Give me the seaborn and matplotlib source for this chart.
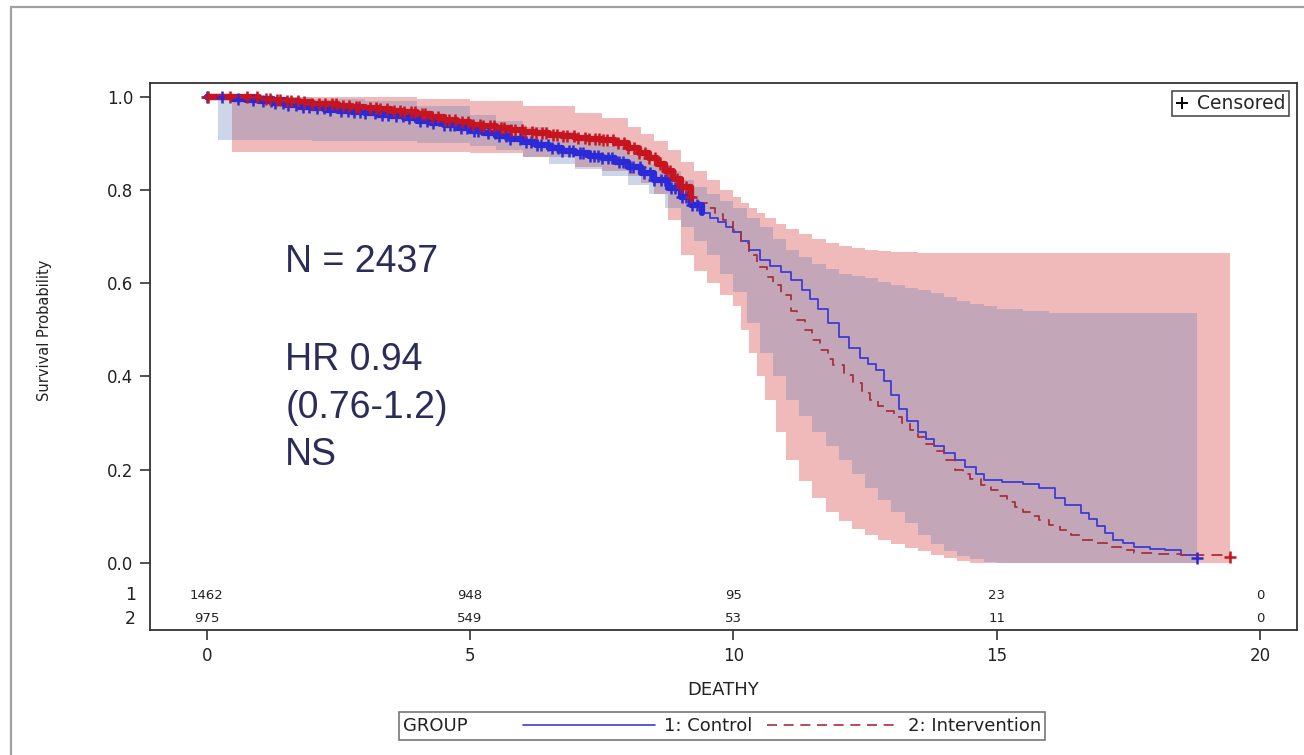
import numpy as np
import pandas as pd
import matplotlib
matplotlib.use("Agg")
import matplotlib.pyplot as plt
import seaborn as sns
from matplotlib.lines import Line2D
from matplotlib.patches import Rectangle
from matplotlib.offsetbox import HPacker

# Kaplan-Meier estimates, time in years
ctrl_time = [0.0, 0.25, 0.5, 0.75, 1.0, 1.25, 1.5, 1.75, 2.0, 2.25, 2.5, 2.75, 3.0,
             3.25, 3.5, 3.75, 4.0, 4.25, 4.5, 4.75, 5.0, 5.25, 5.5, 5.75, 6.0, 6.25,
             6.5, 6.75, 7.0, 7.25, 7.5, 7.75, 8.0, 8.25, 8.5, 8.75, 9.0, 9.2, 9.4,
             9.55, 9.7, 9.85, 10.0, 10.15, 10.3, 10.5, 10.7, 10.9, 11.1, 11.3, 11.45,
             11.6, 11.8, 12.0, 12.2, 12.4, 12.55, 12.7, 12.85, 13.0, 13.15, 13.3,
             13.5, 13.65, 13.8, 14.0, 14.2, 14.4, 14.6, 14.75, 15.1, 15.5, 15.8,
             16.1, 16.3, 16.6, 16.75, 16.9, 17.05, 17.2, 17.4, 17.6, 17.9, 18.2,
             18.5, 18.8]
ctrl_surv = [1.0, 0.998, 0.995, 0.993, 0.99, 0.986, 0.982, 0.978, 0.975, 0.972,
             0.97, 0.967, 0.964, 0.961, 0.958, 0.953, 0.948, 0.943, 0.938, 0.932,
             0.926, 0.921, 0.915, 0.909, 0.902, 0.896, 0.89, 0.884, 0.878, 0.873,
             0.868, 0.859, 0.848, 0.835, 0.82, 0.803, 0.785, 0.768, 0.75, 0.74,
             0.73, 0.72, 0.71, 0.69, 0.672, 0.65, 0.637, 0.624, 0.607, 0.585, 0.565,
             0.545, 0.515, 0.485, 0.46, 0.44, 0.427, 0.414, 0.39, 0.36, 0.33, 0.305,
             0.28, 0.265, 0.25, 0.235, 0.22, 0.205, 0.19, 0.178, 0.174, 0.17, 0.16,
             0.14, 0.125, 0.107, 0.095, 0.08, 0.065, 0.05, 0.042, 0.035, 0.031,
             0.028, 0.018, 0.01]

intv_time = [0.0, 0.5, 1.0, 1.25, 1.5, 1.75, 2.0, 2.25, 2.5, 2.75, 3.0, 3.25, 3.5,
             3.75, 4.0, 4.25, 4.5, 4.75, 5.0, 5.25, 5.5, 5.75, 6.0, 6.25, 6.5, 6.75,
             7.0, 7.25, 7.5, 7.75, 8.0, 8.2, 8.4, 8.55, 8.7, 8.85, 9.0, 9.2, 9.35,
             9.5, 9.65, 9.8, 10.0, 10.15, 10.3, 10.45, 10.63, 10.75, 10.9, 11.1,
             11.2, 11.35, 11.5, 11.64, 11.8, 11.9, 12.1, 12.27, 12.45, 12.6, 12.75,
             12.9, 13.05, 13.2, 13.35, 13.5, 13.65, 13.8, 14.0, 14.2, 14.35, 14.5,
             14.7, 14.9, 15.05, 15.2, 15.35, 15.5, 15.65, 15.8, 16.0, 16.2, 16.4,
             16.6, 16.85, 17.1, 17.35, 17.6, 18.0, 18.5, 19.43]
intv_surv = [1.0, 0.998, 0.995, 0.993, 0.99, 0.988, 0.985, 0.983, 0.98, 0.978,
             0.975, 0.973, 0.97, 0.966, 0.962, 0.956, 0.95, 0.945, 0.94, 0.936,
             0.932, 0.928, 0.925, 0.921, 0.918, 0.915, 0.912, 0.91, 0.907, 0.9,
             0.89, 0.88, 0.868, 0.855, 0.84, 0.823, 0.806, 0.785, 0.772, 0.76,
             0.748, 0.735, 0.714, 0.687, 0.66, 0.635, 0.613, 0.595, 0.575, 0.54,
             0.522, 0.5, 0.478, 0.457, 0.437, 0.425, 0.404, 0.386, 0.365, 0.35,
             0.337, 0.325, 0.313, 0.3, 0.285, 0.27, 0.255, 0.24, 0.22, 0.2, 0.19,
             0.18, 0.168, 0.156, 0.143, 0.13, 0.12, 0.11, 0.1, 0.092, 0.081, 0.07,
             0.06, 0.05, 0.042, 0.035, 0.028, 0.021, 0.019, 0.017, 0.013]

# Pointwise confidence limits
ctrl_ci_time = [0.22, 1.0, 2.0, 3.0, 4.0, 5.0, 5.5, 6.0, 6.5, 7.0, 7.5, 8.0, 8.4,
                8.7, 9.0, 9.25, 9.5, 9.75, 10.0, 10.25, 10.5, 10.75, 11.0, 11.25,
                11.5, 11.75, 12.0, 12.25, 12.5, 12.75, 13.0, 13.25, 13.5, 13.75,
                14.0, 14.25, 14.5, 14.75, 15.0, 15.5, 16.0, 18.8]
ctrl_ci_lower = [0.907, 0.907, 0.905, 0.905, 0.9, 0.895, 0.885, 0.87, 0.855, 0.845,
                 0.83, 0.81, 0.79, 0.76, 0.72, 0.69, 0.66, 0.62, 0.58, 0.515, 0.45,
                 0.4, 0.35, 0.315, 0.28, 0.25, 0.22, 0.19, 0.16, 0.135, 0.11, 0.085,
                 0.06, 0.04, 0.025, 0.015, 0.008, 0.003, 0.0, 0.0, 0.0, 0.0]
ctrl_ci_upper = [1.0, 1.0, 0.995, 0.99, 0.98, 0.96, 0.948, 0.935, 0.925, 0.91,
                 0.895, 0.875, 0.855, 0.84, 0.82, 0.805, 0.79, 0.775, 0.76, 0.74,
                 0.72, 0.695, 0.67, 0.655, 0.64, 0.63, 0.62, 0.615, 0.61, 0.602,
                 0.595, 0.59, 0.585, 0.578, 0.57, 0.562, 0.555, 0.55, 0.545, 0.54,
                 0.535, 0.535]

intv_ci_time = [0.48, 1.0, 2.0, 3.0, 4.0, 5.0, 6.0, 7.0, 7.5, 8.0, 8.25, 8.5, 8.75,
                9.0, 9.25, 9.5, 9.75, 10.0, 10.15, 10.3, 10.45, 10.6, 10.8, 11.0,
                11.25, 11.5, 11.75, 12.0, 12.25, 12.5, 12.75, 13.0, 13.25, 13.5,
                13.75, 14.0, 14.25, 14.5, 19.43]
intv_ci_lower = [0.882, 0.882, 0.882, 0.882, 0.882, 0.88, 0.87, 0.85, 0.84, 0.83,
                 0.815, 0.79, 0.735, 0.66, 0.625, 0.6, 0.575, 0.55, 0.5, 0.45, 0.4,
                 0.35, 0.28, 0.22, 0.175, 0.14, 0.11, 0.09, 0.073, 0.06, 0.05, 0.04,
                 0.032, 0.025, 0.017, 0.01, 0.004, 0.0, 0.0]
intv_ci_upper = [1.0, 1.0, 1.0, 1.0, 0.995, 0.99, 0.98, 0.965, 0.955, 0.935, 0.92,
                 0.905, 0.885, 0.86, 0.84, 0.82, 0.8, 0.785, 0.772, 0.76, 0.75, 0.74,
                 0.727, 0.715, 0.705, 0.695, 0.687, 0.68, 0.676, 0.672, 0.669, 0.667,
                 0.666, 0.665, 0.665, 0.665, 0.665, 0.665, 0.665]

# Censoring times
ctrl_censor = [0.0, 0.29, 0.6, 0.88, 1.07, 1.22, 1.3, 1.45, 1.55, 1.7, 1.82, 1.95,
               2.1, 2.22, 2.35, 2.55, 2.68, 2.8, 2.92, 3.0, 3.2, 3.33, 3.45, 3.6,
               3.72, 3.85, 4.05, 4.18, 4.3, 4.5, 4.62, 4.7, 4.83, 4.95, 5.08, 5.15,
               5.35, 5.47, 5.55, 5.68, 5.75, 5.95, 6.07, 6.15, 6.28, 6.35, 6.48,
               6.55, 6.67, 6.75, 6.88, 6.95, 7.08, 7.15, 7.27, 7.35, 7.43, 7.5, 7.62,
               7.7, 7.82, 7.9, 8.03, 8.1, 8.22, 8.3, 8.42, 8.5, 8.62, 8.7, 8.82, 8.9,
               9.03, 9.1, 9.22, 9.3, 18.8]
intv_censor = [0.03, 0.44, 0.76, 0.95, 1.12, 1.2, 1.33, 1.4, 1.52, 1.6, 1.73, 1.85,
               2.0, 2.13, 2.25, 2.37, 2.45, 2.58, 2.7, 2.83, 2.9, 3.1, 3.22, 3.3,
               3.42, 3.55, 3.67, 3.75, 3.88, 3.95, 4.08, 4.15, 4.27, 4.4, 4.53, 4.6,
               4.72, 4.85, 4.97, 5.05, 5.18, 5.25, 5.38, 5.45, 5.58, 5.65, 5.78,
               5.85, 5.98, 6.05, 6.18, 6.25, 6.37, 6.45, 6.58, 6.65, 6.77, 6.85,
               6.97, 7.05, 7.18, 7.25, 7.37, 7.45, 7.53, 7.6, 7.72, 7.8, 7.92, 8.0,
               8.12, 8.2, 8.33, 8.4, 8.52, 8.6, 8.73, 8.8, 8.93, 9.0, 9.1, 9.2, 19.43]

# Numbers at risk
risk_times = [0, 5, 10, 15, 20]
risk_ctrl = [1462, 948, 95, 23, 0]
risk_intv = [975, 549, 53, 11, 0]

group_labels = ["1: Control", "2: Intervention"]
annot_n = "N = 2437"
annot_hr = ["HR 0.94", "(0.76-1.2)", "NS"]

sns.set_style("white")
plt.rcParams["font.family"] = ["DejaVu Sans"]

CTRL = "#2a2ad8"
CTRL_THIN = "#3c3cd8"
INTV = "#c8141e"
INTV_THIN = "#a8303c"
TXT = "#222222"

fig = plt.figure(figsize=(13.04, 7.55), dpi=100)
ax = fig.add_axes([150 / 1304, 1 - 630 / 755, 1147 / 1304, 547 / 755])

# outer frame
fig.patches.append(Rectangle((11 / 1304, -0.2), 2.0, 1.2 - 7 / 755,
                             transform=fig.transFigure, fill=False,
                             edgecolor="#a0a0a0", lw=1.6, zorder=0))

# confidence bands
ax.fill_between(intv_ci_time, intv_ci_lower, intv_ci_upper, step="post",
                color="#e06666", alpha=0.45, lw=0, zorder=1)
ax.fill_between(ctrl_ci_time, ctrl_ci_lower, ctrl_ci_upper, step="post",
                color="#5a78b4", alpha=0.30, lw=0, zorder=2)

ctrl_df = pd.DataFrame({"time": ctrl_time, "surv": ctrl_surv})
intv_df = pd.DataFrame({"time": intv_time, "surv": intv_surv})

# survival curves
sns.lineplot(data=ctrl_df, x="time", y="surv", ax=ax, estimator=None, sort=False,
             drawstyle="steps-post", color=CTRL_THIN, lw=1.3, zorder=4)
sns.lineplot(data=intv_df, x="time", y="surv", ax=ax, estimator=None, sort=False,
             drawstyle="steps-post", color=INTV_THIN, lw=1.3, zorder=5)
ax.lines[-1].set_linestyle((0, (6, 4)))

# dense censoring region drawn heavier
sns.lineplot(data=ctrl_df[ctrl_df.time <= 9.4], x="time", y="surv", ax=ax,
             estimator=None, sort=False, drawstyle="steps-post", color=CTRL,
             lw=4.5, zorder=6)
sns.lineplot(data=intv_df[intv_df.time <= 9.2], x="time", y="surv", ax=ax,
             estimator=None, sort=False, drawstyle="steps-post", color=INTV,
             lw=4.5, zorder=7)


def surv_at(times, surv, pts):
    idx = np.searchsorted(np.asarray(times), np.asarray(pts), side="right") - 1
    return np.asarray(surv)[idx]


ctrl_cens_df = pd.DataFrame({"time": ctrl_censor,
                             "surv": surv_at(ctrl_time, ctrl_surv, ctrl_censor)})
intv_cens_df = pd.DataFrame({"time": intv_censor,
                             "surv": surv_at(intv_time, intv_surv, intv_censor)})
sns.scatterplot(data=ctrl_cens_df, x="time", y="surv", ax=ax, marker="+", s=70,
                color=CTRL, linewidth=1.8, zorder=8)
sns.scatterplot(data=intv_cens_df, x="time", y="surv", ax=ax, marker="+", s=70,
                color=INTV, linewidth=1.8, zorder=9)

ax.set_xlim(-1.076, 20.70)
ax.set_ylim(-0.1436, 1.029)
ax.set_xticks(risk_times)
ax.set_yticks([0.0, 0.2, 0.4, 0.6, 0.8, 1.0])
ax.set_yticklabels(["0.0", "0.2", "0.4", "0.6", "0.8", "1.0"])
ax.tick_params(axis="both", direction="out", length=7, width=1.2, color="#333333",
               labelsize=12, labelcolor=TXT, left=True, bottom=True, pad=5)
for sp in ax.spines.values():
    sp.set_color("#333333")
    sp.set_linewidth(1.3)

ax.set_xlabel("DEATHY", fontsize=13, color=TXT, labelpad=12)
ax.set_ylabel("Survival Probability", fontsize=10.5, color=TXT)
ax.yaxis.set_label_coords(-0.0854, 0.548)

# numbers at risk
row_y = [-0.0686, -0.12]
for yv, counts, name in zip(row_y, [risk_ctrl, risk_intv], ["1", "2"]):
    for t, n in zip(risk_times, counts):
        ax.text(t, yv, str(n), ha="center", va="center", fontsize=9.5, color=TXT)
    ax.text(-0.012, yv, name, transform=ax.get_yaxis_transform(), ha="right",
            va="center", fontsize=12.5, color=TXT)

# annotation
ANN = "#2b2c58"
ax.text(1.49, 0.624, annot_n, fontsize=27, color=ANN, family="Liberation Sans",
        va="baseline", ha="left")
for yv, s in zip([0.414, 0.311, 0.21], annot_hr):
    ax.text(1.49, yv, s, fontsize=27, color=ANN, family="Liberation Sans",
            va="baseline", ha="left")

# censored key
cens_handle = Line2D([], [], marker="+", color="black", ls="none", ms=8, mew=1.4)
ax.legend([cens_handle], ["Censored"], loc="upper right", fontsize=13.5,
          frameon=True, fancybox=False, edgecolor="#222222", handlelength=0.8,
          handletextpad=0.4, borderpad=0.15, borderaxespad=0.45)
ax.get_legend().get_frame().set_linewidth(1.2)

# group key below the axes
h_ctrl = Line2D([], [], color=CTRL_THIN, lw=1.2)
h_intv = Line2D([], [], color=INTV_THIN, lw=1.2, ls=(0, (6, 4)))
leg = fig.legend([h_ctrl, h_intv], group_labels, ncol=2, title="GROUP",
                 loc="center", bbox_to_anchor=(722 / 1304, 1 - 726 / 755),
                 frameon=True, fancybox=False, edgecolor="#555555", fontsize=13,
                 title_fontsize=13, handlelength=7.3, columnspacing=0.8,
                 handletextpad=0.5, borderpad=0.25)
leg.get_frame().set_linewidth(1.2)
for t in leg.get_texts():
    t.set_color(TXT)
leg.get_title().set_color(TXT)
old_box = leg._legend_box
row_box = HPacker(pad=old_box.pad, sep=40, align="center",
                  children=old_box.get_children())
row_box.set_figure(fig)
row_box.set_offset(leg._findoffset)
leg._legend_box = row_box

fig.savefig("out.png", dpi=100)
